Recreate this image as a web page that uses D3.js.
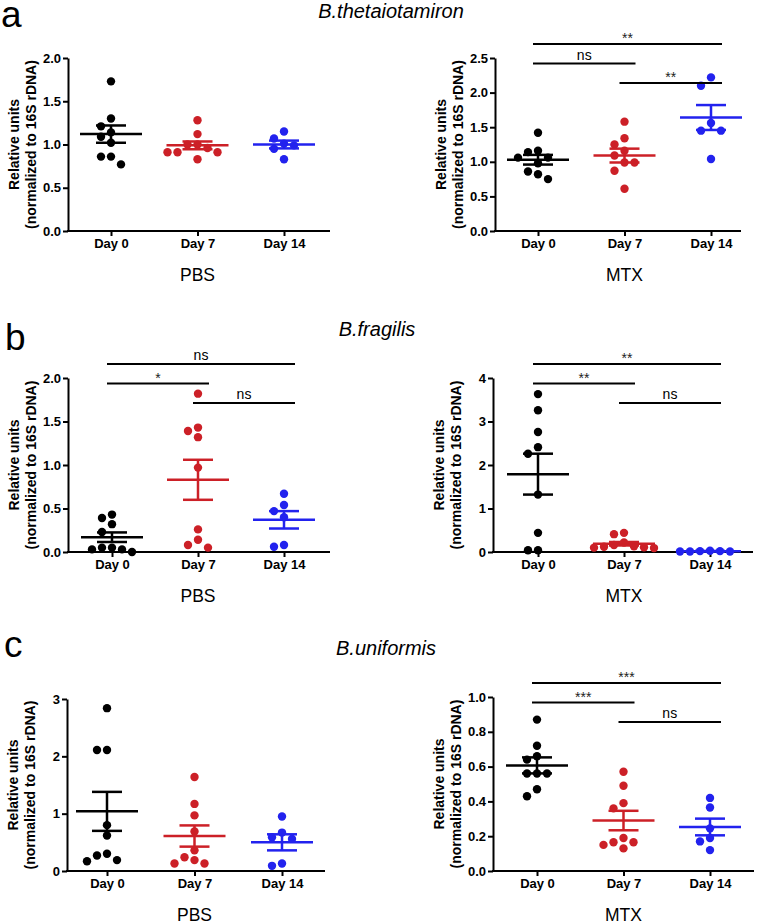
<!DOCTYPE html>
<html>
<head>
<meta charset="utf-8">
<script src="https://cdn.jsdelivr.net/npm/d3@7"></script>
<style>
  html, body { margin: 0; padding: 0; background: #fff; }
  svg { display: block; }
  text { font-family: "Liberation Sans", Arial, Helvetica, sans-serif; }
</style>
</head>
<body>
<div id="chart"></div>
<script>
// ---------------- data ----------------
const groups = ["Day 0", "Day 7", "Day 14"];
const treatments = ["PBS", "MTX"];
const species = ["B.thetaiotamiron", "B.fragilis", "B.uniformis"];
const panelLetters = ["a", "b", "c"];
const yAxisTitle = ["Relative units", "(normalized to 16S rDNA)"];

// B. thetaiotamiron
const thetaPBS = [
  [1.73, 1.30, 1.21, 1.14, 1.09, 1.02, 0.86, 0.86, 0.77],
  [1.28, 1.12, 1.00, 1.00, 0.96, 0.91, 0.91, 0.91, 0.83],
  [1.15, 1.07, 1.01, 0.99, 0.95, 0.83]
];
const thetaPBSMean = [1.12, 0.99, 1.00];
const thetaPBSSem  = [0.10, 0.045, 0.045];

const thetaMTX = [
  [1.42, 1.16, 1.14, 1.06, 1.06, 0.98, 0.86, 0.82, 0.75],
  [1.58, 1.34, 1.25, 1.16, 1.09, 0.99, 0.99, 0.87, 0.61],
  [2.22, 2.10, 1.56, 1.45, 1.45, 1.04]
];
const thetaMTXMean = [1.03, 1.09, 1.64];
const thetaMTXSem  = [0.07, 0.10, 0.18];
const thetaMTXSig  = [[0, 2, "**"], [0, 1, "ns"], [1, 2, "**"]];

// B. fragilis
const fragPBS = [
  [0.43, 0.39, 0.32, 0.23, 0.05, 0.03, 0.00, 0.03, 0.05],
  [1.82, 1.43, 1.39, 1.32, 0.97, 0.26, 0.14, 0.08, 0.05],
  [0.67, 0.54, 0.47, 0.40, 0.08, 0.06]
];
const fragPBSMean = [0.17, 0.83, 0.37];
const fragPBSSem  = [0.055, 0.23, 0.10];
const fragPBSSig  = [[0, 2, "ns"], [0, 1, "*"], [1, 2, "ns"]];

const fragMTX = [
  [3.63, 3.26, 2.76, 2.41, 2.26, 1.32, 0.44, 0.04, 0.04],
  [0.44, 0.41, 0.22, 0.16, 0.13, 0.12, 0.11, 0.10, 0.09],
  [0.03, 0.02, 0.02, 0.01, 0.01, 0.01]
];
const fragMTXMean = [1.79, 0.19, 0.02];
const fragMTXSem  = [0.47, 0.04, 0.005];
const fragMTXSig  = [[0, 2, "**"], [0, 1, "**"], [1, 2, "ns"]];

// B. uniformis
const uniPBS = [
  [2.84, 2.11, 2.11, 0.80, 0.62, 0.30, 0.27, 0.19, 0.17],
  [1.64, 1.17, 0.97, 0.69, 0.36, 0.24, 0.19, 0.13, 0.13],
  [0.95, 0.67, 0.59, 0.56, 0.13, 0.09]
];
const uniPBSMean = [1.04, 0.61, 0.50];
const uniPBSSem  = [0.34, 0.185, 0.14];

const uniMTX = [
  [0.87, 0.72, 0.66, 0.64, 0.56, 0.56, 0.56, 0.47, 0.43],
  [0.57, 0.49, 0.39, 0.36, 0.19, 0.165, 0.165, 0.15, 0.13],
  [0.42, 0.365, 0.245, 0.19, 0.17, 0.12]
];
const uniMTXMean = [0.607, 0.29, 0.253];
const uniMTXSem  = [0.046, 0.056, 0.048];
const uniMTXSig  = [[0, 2, "***"], [0, 1, "***"], [1, 2, "ns"]];

// y-axis tick labels per panel
const thetaPBSTicks = [0, 0.5, 1.0, 1.5, 2.0];
const thetaMTXTicks = [0, 0.5, 1.0, 1.5, 2.0, 2.5];
const fragPBSTicks  = [0, 0.5, 1.0, 1.5, 2.0];
const fragMTXTicks  = [0, 1, 2, 3, 4];
const uniPBSTicks   = [0, 1, 2, 3];
const uniMTXTicks   = [0, 0.2, 0.4, 0.6, 0.8, 1.0];

// ---------------- layout / style ----------------
const W = 758, H = 924;
const colors = ["#000000", "#cc2027", "#2222ee"];

const rows = [
  { letterX: 1, letterY: 27, titleX: 391, titleY: 18 },
  { letterX: 5, letterY: 350, titleX: 377, titleY: 336 },
  { letterX: 4, letterY: 657, titleX: 386, titleY: 655 }
];

const panels = [
  { row: 0, t: 0, vals: thetaPBS, mean: thetaPBSMean, sem: thetaPBSSem, ticks: thetaPBSTicks, fmt: ".1f", sig: null,
    axisX: 68, xEnd: 330, x0: 111, x2: 284, yTop: 58, yBot: 231 },
  { row: 0, t: 1, vals: thetaMTX, mean: thetaMTXMean, sem: thetaMTXSem, ticks: thetaMTXTicks, fmt: ".1f", sig: thetaMTXSig,
    axisX: 495, xEnd: 741, x0: 538, x2: 711, yTop: 58, yBot: 231 },
  { row: 1, t: 0, vals: fragPBS, mean: fragPBSMean, sem: fragPBSSem, ticks: fragPBSTicks, fmt: ".1f", sig: fragPBSSig,
    axisX: 68, xEnd: 330, x0: 112, x2: 284, yTop: 378, yBot: 552 },
  { row: 1, t: 1, vals: fragMTX, mean: fragMTXMean, sem: fragMTXSem, ticks: fragMTXTicks, fmt: "d", sig: fragMTXSig,
    axisX: 493, xEnd: 753, x0: 538, x2: 710, yTop: 378, yBot: 552 },
  { row: 2, t: 0, vals: uniPBS, mean: uniPBSMean, sem: uniPBSSem, ticks: uniPBSTicks, fmt: "d", sig: null,
    axisX: 67, xEnd: 325, x0: 107, x2: 282, yTop: 699, yBot: 871 },
  { row: 2, t: 1, vals: uniMTX, mean: uniMTXMean, sem: uniMTXSem, ticks: uniMTXTicks, fmt: ".1f", sig: uniMTXSig,
    axisX: 493, xEnd: 754, x0: 537, x2: 710, yTop: 697, yBot: 871 }
];

const svg = d3.select("#chart").append("svg")
  .attr("width", W).attr("height", H)
  .attr("viewBox", `0 0 ${W} ${H}`);

// row titles and letters
rows.forEach((r, i) => {
  svg.append("text").attr("x", r.letterX).attr("y", r.letterY)
    .attr("font-size", 37).attr("fill", "#000").text(panelLetters[i]);
  svg.append("text").attr("x", r.titleX).attr("y", r.titleY)
    .attr("text-anchor", "middle").attr("font-size", 20).attr("font-style", "italic")
    .attr("fill", "#000").text(species[i]);
});

const R = 4.2, STEP = 10, MIND = 8.6;

panels.forEach(p => {
  const g = svg.append("g");
  const x = d3.scalePoint().domain(groups).range([p.x0, p.x2]);
  const y = d3.scaleLinear().domain([0, p.ticks[p.ticks.length - 1]]).range([p.yBot, p.yTop]);

  // y axis
  const yAx = g.append("g").attr("transform", `translate(${p.axisX},0)`)
    .call(d3.axisLeft(y).tickValues(p.ticks).tickFormat(d3.format(p.fmt)).tickSize(5).tickSizeOuter(0).tickPadding(2));
  yAx.select(".domain").attr("stroke-width", 2);
  yAx.selectAll(".tick line").attr("stroke-width", 2);
  yAx.selectAll("text").attr("font-size", 13).attr("font-weight", "bold")
    .attr("font-family", '"Liberation Sans", Arial, sans-serif').attr("fill", "#000");

  // x axis
  const xAx = g.append("g").attr("transform", `translate(0,${p.yBot})`)
    .call(d3.axisBottom(x).tickSize(5).tickSizeOuter(0).tickPadding(3));
  xAx.select(".domain").remove();
  xAx.selectAll(".tick line").attr("stroke-width", 2);
  xAx.selectAll("text").attr("font-size", 13).attr("font-weight", "bold")
    .attr("font-family", '"Liberation Sans", Arial, sans-serif').attr("fill", "#000");
  g.append("line").attr("x1", p.axisX - 1).attr("x2", p.xEnd)
    .attr("y1", p.yBot).attr("y2", p.yBot).attr("stroke", "#000").attr("stroke-width", 2);

  // y axis title (two lines)
  const cy = (p.yTop + p.yBot) / 2;
  [p.axisX - 54, p.axisX - 37].forEach((cx, i) => {
    g.append("text").attr("transform", `translate(${cx},${cy}) rotate(-90)`)
      .attr("text-anchor", "middle").attr("dy", "0.35em")
      .attr("font-size", 14).attr("font-weight", "bold").attr("fill", "#000")
      .text(yAxisTitle[i]);
  });

  // group label
  g.append("text").attr("x", x(groups[1])).attr("y", p.yBot + 50)
    .attr("text-anchor", "middle").attr("font-size", 17.5).attr("fill", "#000")
    .text(treatments[p.t]);

  // dots with simple column-swarm placement
  p.vals.forEach((vals, gi) => {
    const cx0 = x(groups[gi]);
    const placed = [];
    const order = vals.map((v, i) => i).sort((a, b) => vals[b] - vals[a]);
    order.forEach(i => {
      const py = y(vals[i]);
      const cands = [0, -1, 1, -2, 2, -3, 3, -4, 4];
      let off = 0;
      for (const c of cands) {
        const px = cx0 + c * STEP;
        if (placed.every(q => Math.hypot(q[0] - px, q[1] - py) >= MIND)) { off = c; break; }
      }
      placed.push([cx0 + off * STEP, py]);
    });
    g.selectAll(null).data(placed).enter().append("circle")
      .attr("cx", d => d[0]).attr("cy", d => d[1]).attr("r", R)
      .attr("fill", colors[gi]);

    // mean and SEM
    const m = p.mean[gi], s = p.sem[gi];
    const lw = 2.5;
    g.append("line").attr("x1", cx0 - 31).attr("x2", cx0 + 31)
      .attr("y1", y(m)).attr("y2", y(m)).attr("stroke", colors[gi]).attr("stroke-width", lw);
    g.append("line").attr("x1", cx0).attr("x2", cx0)
      .attr("y1", y(m + s)).attr("y2", y(m - s)).attr("stroke", colors[gi]).attr("stroke-width", lw);
    [m + s, m - s].forEach(v => {
      g.append("line").attr("x1", cx0 - 15).attr("x2", cx0 + 15)
        .attr("y1", y(v)).attr("y2", y(v)).attr("stroke", colors[gi]).attr("stroke-width", lw);
    });
  });

  // significance brackets
  if (p.sig) {
    const levels = [p.yTop - 14, p.yTop + 5.5, p.yTop + 25];
    p.sig.forEach((s, li) => {
      const x1 = x(groups[s[0]]) - 5, x2 = x(groups[s[1]]) + 11;
      const by = levels[li];
      g.append("line").attr("x1", x1).attr("x2", x2).attr("y1", by).attr("y2", by)
        .attr("stroke", "#000").attr("stroke-width", 1.8);
      const isStar = s[2].indexOf("*") >= 0;
      g.append("text").attr("x", (x1 + x2) / 2).attr("y", isStar ? by - 1 : by - 4)
        .attr("text-anchor", "middle").attr("font-size", 14).attr("fill", isStar ? "#222" : "#000")
        .text(s[2]);
    });
  }
});
</script>
</body>
</html>
